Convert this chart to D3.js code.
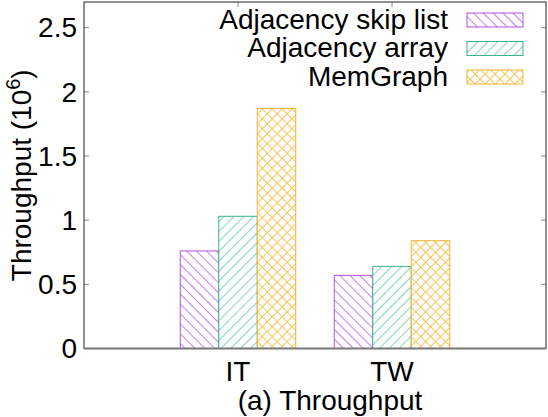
<!DOCTYPE html>
<html>
<head>
<meta charset="utf-8">
<script src="https://cdn.jsdelivr.net/npm/d3@7"></script>
<style>
  body { margin: 0; background: #fff; }
  svg { display: block; font-family: "Liberation Sans", Arial, sans-serif; }
</style>
</head>
<body>
<svg id="chart" width="548" height="417"></svg>
<script>
// Data
var categories = ["IT", "TW"];
var series = ["Adjacency skip list", "Adjacency array", "MemGraph"];
var skipList = [0.76, 0.57];
var adjArray = [1.03, 0.64];
var memGraph = [1.87, 0.84];
var yTicks = [0, 0.5, 1, 1.5, 2, 2.5];
var yTickLabels = ["0", "0.5", "1", "1.5", "2", "2.5"];

var values = [skipList, adjArray, memGraph];

var svg = d3.select("#chart");
var plotLeft = 84, plotRight = 546, plotTop = 2, plotBottom = 348.5;

// x runs from -1 to 2, categories sit at 0 and 1 (gnuplot style)
var x = d3.scaleLinear().domain([-1, 2]).range([plotLeft, plotRight]);
var inner = d3.scaleBand().domain(series).range([-0.375, 0.375]);
var y = d3.scaleLinear().domain([0, 2.7]).range([plotBottom, plotTop]);

var styles = [
    { stroke: "#b24fe6", line: "#c983f0", angles: [-45] },
    { stroke: "#3db38c", line: "#86d8bd", angles: [45] },
    { stroke: "#f0b232", line: "#f4c865", angles: [45, -45] }
];

// Hatch patterns
var defs = svg.append("defs");
styles.forEach(function (s, i) {
    s.angles.forEach(function (a, j) {
        var p = defs.append("pattern")
            .attr("id", "hatch" + i + "_" + j)
            .attr("patternUnits", "userSpaceOnUse")
            .attr("width", 7)
            .attr("height", 7)
            .attr("patternTransform", "rotate(" + a + ")");
        p.append("line")
            .attr("x1", 3.5).attr("y1", 0)
            .attr("x2", 3.5).attr("y2", 7)
            .attr("stroke", s.line)
            .attr("stroke-width", 1.1);
    });
});

// Ticks (inward, mirrored), drawn under the bars
var tickColor = "#8a8a8a";
var tg = svg.append("g").attr("stroke", tickColor).attr("stroke-width", 1);
yTicks.forEach(function (t) {
    tg.append("line").attr("x1", plotLeft).attr("x2", plotLeft + 5).attr("y1", y(t)).attr("y2", y(t));
    tg.append("line").attr("x1", plotRight - 5).attr("x2", plotRight).attr("y1", y(t)).attr("y2", y(t));
});
categories.forEach(function (c, i) {
    tg.append("line").attr("x1", x(i)).attr("x2", x(i)).attr("y1", plotTop).attr("y2", plotTop + 5);
    tg.append("line").attr("x1", x(i)).attr("x2", x(i)).attr("y1", plotBottom).attr("y2", plotBottom - 5);
});

// Bars
series.forEach(function (name, si) {
    var s = styles[si];
    var g = svg.append("g");
    var data = values[si].map(function (v, ci) { return { v: v, ci: ci }; });
    var bx = function (d) { return x(d.ci + inner(name)); };
    var bw = x(inner.bandwidth()) - x(0);
    var by = function (d) { return y(d.v); };
    var bh = function (d) { return plotBottom - y(d.v); };
    g.selectAll("rect.bg").data(data).join("rect")
        .attr("x", bx).attr("y", by).attr("width", bw).attr("height", bh)
        .attr("fill", "#fff");
    s.angles.forEach(function (a, j) {
        g.append("g").selectAll("rect").data(data).join("rect")
            .attr("x", bx).attr("y", by).attr("width", bw).attr("height", bh)
            .attr("fill", "url(#hatch" + si + "_" + j + ")");
    });
    g.append("g").selectAll("rect").data(data).join("rect")
        .attr("x", bx).attr("y", by).attr("width", bw).attr("height", bh)
        .attr("fill", "none")
        .attr("stroke", s.stroke)
        .attr("stroke-width", 1);
});

// Frame
svg.append("rect")
    .attr("x", plotLeft).attr("y", plotTop)
    .attr("width", plotRight - plotLeft).attr("height", plotBottom - plotTop)
    .attr("fill", "none").attr("stroke", "#222").attr("stroke-width", 1);
svg.append("line")
    .attr("x1", plotLeft).attr("x2", plotRight).attr("y1", plotBottom).attr("y2", plotBottom)
    .attr("stroke", "#777").attr("stroke-width", 2);

// Tick labels
var fs = 28;
svg.append("g").selectAll("text").data(yTicks).join("text")
    .attr("x", plotLeft - 7)
    .attr("y", function (d) { return y(d); })
    .attr("dy", "0.35em")
    .attr("text-anchor", "end")
    .attr("font-size", fs)
    .text(function (d, i) { return yTickLabels[i]; });

svg.append("g").selectAll("text").data(categories).join("text")
    .attr("x", function (d, i) { return x(i); })
    .attr("y", 381)
    .attr("text-anchor", "middle")
    .attr("font-size", fs)
    .text(function (d) { return d; });

// Axis titles
svg.append("text")
    .attr("x", 330).attr("y", 410)
    .attr("text-anchor", "middle")
    .attr("font-size", fs)
    .text("(a) Throughput");

var yt = svg.append("text")
    .attr("transform", "translate(31," + ((plotTop + plotBottom) / 2) + ") rotate(-90)")
    .attr("text-anchor", "middle")
    .attr("font-size", fs);
yt.append("tspan").text("Throughput (10");
yt.append("tspan").attr("font-size", 20).attr("dy", -11).text("6");
yt.append("tspan").attr("dy", 11).text(")");

// Legend
var legend = svg.append("g");
series.forEach(function (name, si) {
    var s = styles[si];
    var base = 28.5 + si * 28.5;
    legend.append("text")
        .attr("x", 448).attr("y", base)
        .attr("text-anchor", "end")
        .attr("font-size", fs)
        .text(name);
    var ry = base - 15.5;
    legend.append("rect")
        .attr("x", 467).attr("y", ry).attr("width", 56).attr("height", 14)
        .attr("fill", "#fff");
    s.angles.forEach(function (a, j) {
        legend.append("rect")
            .attr("x", 467).attr("y", ry).attr("width", 56).attr("height", 14)
            .attr("fill", "url(#hatch" + si + "_" + j + ")");
    });
    legend.append("rect")
        .attr("x", 467).attr("y", ry).attr("width", 56).attr("height", 14)
        .attr("fill", "none")
        .attr("stroke", s.stroke)
        .attr("stroke-width", 1);
});
</script>
</body>
</html>
